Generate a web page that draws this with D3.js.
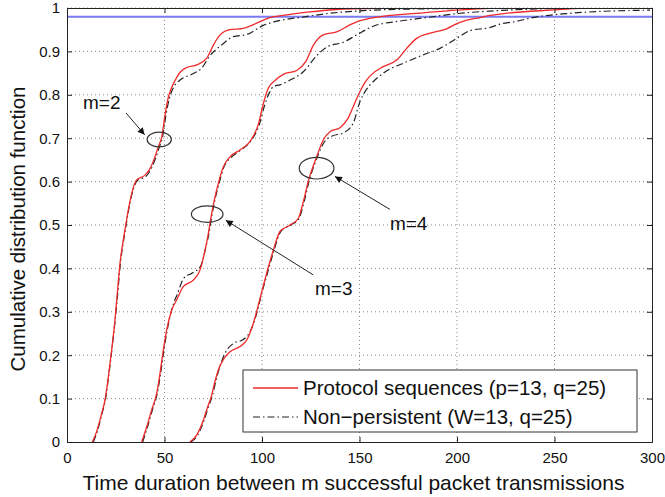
<!DOCTYPE html>
<html>
<head>
<meta charset="utf-8">
<script src="https://cdn.jsdelivr.net/npm/d3@7/dist/d3.min.js"></script>
<style>
  body { margin: 0; background: #fff; }
  svg { font-family: "Liberation Sans", Arial, Helvetica, sans-serif; }
</style>
</head>
<body>
<svg id="chart"></svg>
<script>
// CDF curves: [time, probability]
const red2 = [[13,0],[15.2,0.024],[17.8,0.066],[19.5,0.097],[21.2,0.15],[22.9,0.212],[24.6,0.281],[25.5,0.327],[27.2,0.412],[29.7,0.488],[31.4,0.534],[33.2,0.573],[35.7,0.604],[40,0.615],[42.6,0.63],[45.1,0.657],[46.8,0.68],[48.6,0.703],[50.3,0.755],[52,0.795],[53.5,0.815],[55.4,0.833],[58,0.852],[61.4,0.863],[66.5,0.869],[71.6,0.884],[75,0.914],[78.5,0.938],[83.6,0.95],[90.4,0.953],[97.3,0.965],[104,0.978],[112.7,0.984],[124.6,0.991],[136.5,0.996],[160,0.999],[200,1],[300,1]];
const black2 = [[13.5,0],[15.5,0.024],[18,0.066],[19.7,0.097],[21.3,0.15],[23,0.212],[24.7,0.281],[25.7,0.327],[27.4,0.412],[29.9,0.488],[31.6,0.534],[33.4,0.573],[36,0.602],[40.5,0.612],[43,0.628],[45.5,0.655],[47.2,0.678],[49,0.703],[50.8,0.755],[52.5,0.792],[55,0.82],[58,0.834],[64.8,0.849],[69,0.861],[73.3,0.89],[79.3,0.915],[85.3,0.934],[92.2,0.939],[100.7,0.96],[109,0.971],[121,0.979],[133,0.987],[148.6,0.993],[170,0.997],[210,0.999],[300,1]];
const red3 = [[38.3,0],[40.9,0.035],[43.4,0.074],[46,0.112],[47.7,0.158],[49.4,0.212],[51.1,0.258],[53.7,0.304],[56.2,0.327],[59.6,0.358],[64.8,0.373],[68.2,0.396],[70.8,0.442],[72.5,0.481],[74.2,0.527],[75.9,0.565],[77.6,0.596],[80.2,0.634],[83.6,0.657],[88.7,0.673],[93.8,0.692],[98.1,0.732],[100.7,0.78],[103.2,0.815],[106.7,0.833],[110.9,0.847],[117.8,0.856],[122.5,0.877],[126.3,0.914],[131.4,0.938],[138.3,0.945],[145.1,0.961],[150.3,0.971],[155,0.976],[165.6,0.983],[182.7,0.989],[199.9,0.995],[216.9,0.999],[240,1],[300,1]];
const black3 = [[38.8,0],[41.3,0.035],[43.8,0.074],[46.3,0.112],[48,0.158],[49.7,0.212],[51.4,0.258],[54,0.31],[56.5,0.34],[60,0.378],[64.5,0.39],[68.5,0.405],[71,0.445],[72.8,0.481],[74.5,0.527],[76.2,0.565],[78,0.596],[80.5,0.634],[84,0.655],[89,0.672],[94,0.692],[98.5,0.73],[101.3,0.775],[103.8,0.805],[105.8,0.819],[109.2,0.823],[114.4,0.834],[121.2,0.853],[128,0.89],[133.2,0.91],[141.7,0.921],[148.6,0.938],[157,0.958],[170.8,0.97],[184.5,0.978],[199.8,0.987],[217,0.993],[242.6,0.998],[270,1],[300,1]];
const red4 = [[63,0],[66.5,0.016],[69.9,0.05],[71.6,0.074],[74.2,0.108],[75.9,0.14],[77.6,0.166],[80.2,0.19],[83.6,0.208],[88.7,0.22],[92.2,0.235],[95.5,0.273],[98.1,0.315],[99.8,0.345],[102.4,0.389],[105.8,0.442],[109.2,0.485],[114.4,0.5],[118.6,0.515],[121.2,0.554],[124,0.605],[128,0.657],[131.4,0.696],[134.9,0.715],[140,0.724],[144,0.745],[147,0.775],[150.3,0.808],[153,0.83],[156,0.846],[162.2,0.865],[169.1,0.88],[174.2,0.907],[179.3,0.93],[186.2,0.942],[194.7,0.952],[199.9,0.964],[205,0.972],[211.8,0.978],[217,0.983],[225.5,0.988],[247.7,0.995],[264.8,0.999],[300,1]];
const black4 = [[63.5,0],[67,0.016],[70.3,0.05],[72,0.074],[74.6,0.108],[76.3,0.14],[78,0.168],[81,0.204],[85.3,0.227],[90.4,0.236],[94.7,0.262],[97.5,0.3],[100,0.345],[102.8,0.389],[106.2,0.442],[109.6,0.485],[114.8,0.5],[119,0.515],[121.6,0.554],[124.4,0.605],[128.4,0.657],[131.8,0.69],[136,0.705],[141.7,0.712],[146.8,0.735],[150.3,0.785],[153.5,0.812],[157,0.83],[162.2,0.85],[174.2,0.876],[182.7,0.892],[191.3,0.907],[199.8,0.93],[206.7,0.948],[216.9,0.955],[222,0.963],[229,0.968],[239,0.978],[256,0.987],[273,0.992],[299,0.995]];

const target = 0.98;   // blue reference level
const xTicks = [0, 50, 100, 150, 200, 250, 300];
const yTicks = [0, 0.1, 0.2, 0.3, 0.4, 0.5, 0.6, 0.7, 0.8, 0.9, 1];
const legendLabels = ["Protocol sequences (p=13, q=25)", "Non\u2212persistent (W=13, q=25)"];

// annotations: label, label position, arrow tail/tip, ellipse centre + radii (data units)
const notes = [
  { text: "m=2", tx: 8.2, ty: 0.768, ax0: 30.3, ay0: 0.758, ax1: 39.8, ay1: 0.708, cx: 47.3, cy: 0.697, rx: 6.2, ry: 0.017 },
  { text: "m=3", tx: 127.2, ty: 0.339, ax0: 126.3, ay0: 0.385, ax1: 81.4, ay1: 0.511, cx: 71.9, cy: 0.525, rx: 8.1, ry: 0.019 },
  { text: "m=4", tx: 165.6, ty: 0.488, ax0: 165.6, ay0: 0.536, ax1: 137.4, ay1: 0.612, cx: 128, cy: 0.631, rx: 8.9, ry: 0.025 }
];

const W = 665, H = 497;
const margin = { top: 8, right: 13, bottom: 55, left: 67 };
const width = W - margin.left - margin.right;
const height = H - margin.top - margin.bottom;

const svg = d3.select("#chart").attr("width", W).attr("height", H);
const g = svg.append("g").attr("transform", `translate(${margin.left},${margin.top})`);

const x = d3.scaleLinear().domain([0, 300]).range([0, width]);
const y = d3.scaleLinear().domain([0, 1]).range([height, 0]);

svg.append("defs").html(`
  <clipPath id="clip"><rect x="0" y="0" width="${width}" height="${height}"></rect></clipPath>
  <marker id="arrow" viewBox="0 0 10 10" refX="10" refY="5" markerWidth="9" markerHeight="7" markerUnits="userSpaceOnUse" orient="auto">
    <path d="M0,0 L10,5 L0,10 z" fill="#111"></path>
  </marker>`);

// dotted grid
g.append("g").selectAll("line").data(xTicks.slice(1, -1)).join("line")
  .attr("x1", d => x(d)).attr("x2", d => x(d)).attr("y1", 0).attr("y2", height)
  .attr("stroke", "#888").attr("stroke-width", 1).attr("stroke-dasharray", "1,3");
g.append("g").selectAll("line").data(yTicks.slice(1)).join("line")
  .attr("x1", 0).attr("x2", width).attr("y1", d => y(d)).attr("y2", d => y(d))
  .attr("stroke", "#888").attr("stroke-width", 1).attr("stroke-dasharray", "1,3");

// blue reference line
g.append("line")
  .attr("x1", 0).attr("x2", width).attr("y1", y(target)).attr("y2", y(target))
  .attr("stroke", "#7a7af2").attr("stroke-width", 2);

const line = d3.line().x(d => x(d[0])).y(d => y(d[1])).curve(d3.curveMonotoneX);
const curves = g.append("g").attr("clip-path", "url(#clip)");

[black2, black3, black4].forEach(s => {
  curves.append("path").datum(s)
    .attr("fill", "none").attr("stroke", "#222").attr("stroke-width", 1.2)
    .attr("stroke-dasharray", "7,3,1.5,3").attr("d", line);
});
[red2, red3, red4].forEach(s => {
  curves.append("path").datum(s)
    .attr("fill", "none").attr("stroke", "#ee2a2a").attr("stroke-width", 1.3)
    .attr("d", line);
});

// axes, matlab style: inward ticks, full box
const fmt = d => d3.format("~g")(d);
const axB = g.append("g").attr("transform", `translate(0,${height})`)
  .call(d3.axisBottom(x).tickValues(xTicks).tickSize(-5).tickPadding(10).tickFormat(fmt));
const axL = g.append("g")
  .call(d3.axisLeft(y).tickValues(yTicks).tickSize(-5).tickPadding(7).tickFormat(fmt));
const axT = g.append("g")
  .call(d3.axisTop(x).tickValues(xTicks).tickSize(-5).tickFormat(""));
const axR = g.append("g").attr("transform", `translate(${width},0)`)
  .call(d3.axisRight(y).tickValues(yTicks).tickSize(-5).tickFormat(""));
[axB, axL, axT, axR].forEach(a => {
  a.select(".domain").attr("stroke", "#222");
  a.selectAll(".tick line").attr("stroke", "#222");
  a.selectAll("text").attr("fill", "#111").style("font-size", "15px")
    .style("font-family", "'Liberation Sans', Arial, sans-serif");
});

// axis titles
svg.append("text")
  .attr("x", margin.left + width / 2 - 6).attr("y", 490)
  .attr("text-anchor", "middle").attr("fill", "#111").style("font-size", "21px")
  .text("Time duration between m successful packet transmissions");
svg.append("text")
  .attr("transform", `translate(25,${margin.top + height / 2 + 4}) rotate(-90)`)
  .attr("text-anchor", "middle").attr("fill", "#111").style("font-size", "20.5px")
  .text("Cumulative distribution function");

// annotations
notes.forEach(n => {
  g.append("ellipse")
    .attr("cx", x(n.cx)).attr("cy", y(n.cy))
    .attr("rx", x(n.rx) - x(0)).attr("ry", y(0) - y(n.ry))
    .attr("fill", "none").attr("stroke", "#333").attr("stroke-width", 1.2);
  g.append("line")
    .attr("x1", x(n.ax0)).attr("y1", y(n.ay0)).attr("x2", x(n.ax1)).attr("y2", y(n.ay1))
    .attr("stroke", "#222").attr("stroke-width", 1).attr("marker-end", "url(#arrow)");
  g.append("text").attr("x", x(n.tx)).attr("y", y(n.ty))
    .attr("fill", "#111").style("font-size", "19px").text(n.text);
});

// legend
const lg = g.append("g").attr("transform", `translate(${width - 409},${height - 72})`);
lg.append("rect").attr("width", 394).attr("height", 62)
  .attr("fill", "#fff").attr("stroke", "#333").attr("stroke-width", 1);
const styles = [
  { stroke: "#ee2a2a", dash: null, w: 1.3 },
  { stroke: "#222", dash: "7,3,1.5,3", w: 1.2 }
];
legendLabels.forEach((lab, i) => {
  const yy = 18 + i * 29;
  lg.append("line").attr("x1", 10).attr("x2", 55).attr("y1", yy).attr("y2", yy)
    .attr("stroke", styles[i].stroke).attr("stroke-width", styles[i].w)
    .attr("stroke-dasharray", styles[i].dash);
  lg.append("text").attr("x", 60).attr("y", yy + 7)
    .attr("fill", "#111").style("font-size", "20.5px").text(lab);
});
</script>
</body>
</html>
